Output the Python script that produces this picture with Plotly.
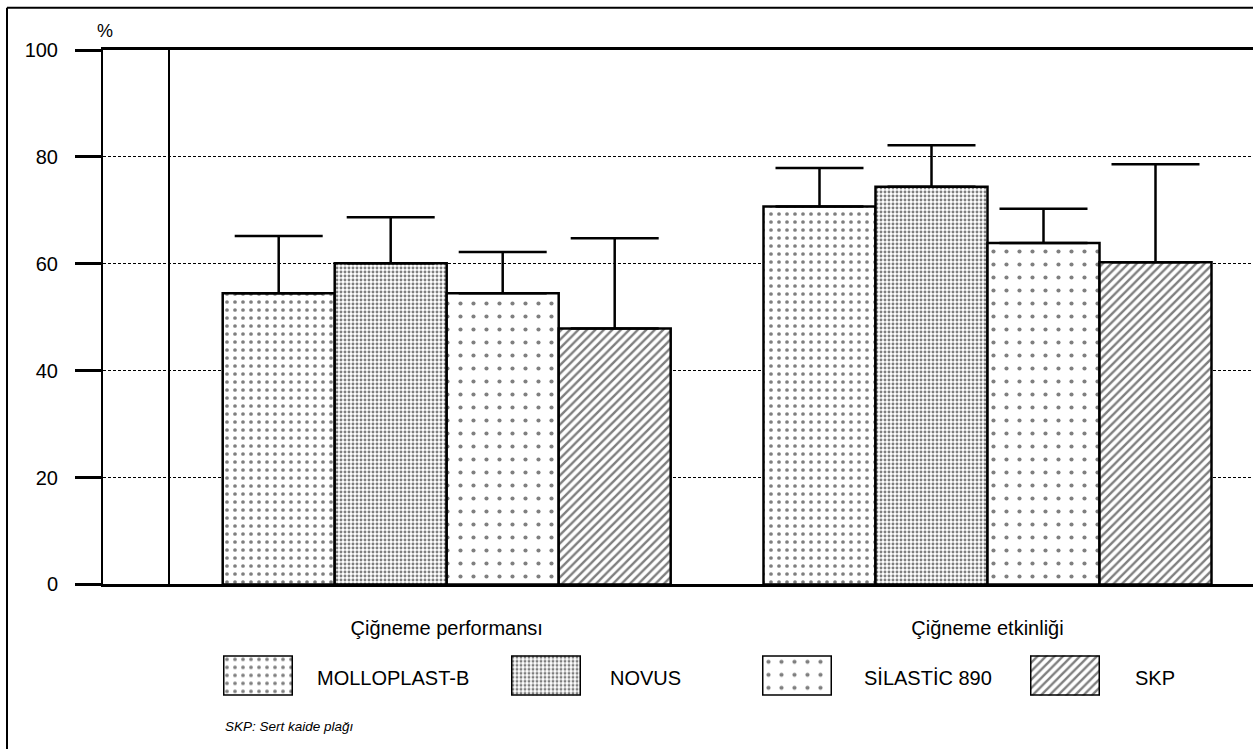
import plotly.graph_objects as go

# ---- data ----
groups = ["Çiğneme performansı", "Çiğneme etkinliği"]
series = ["MOLLOPLAST-B", "NOVUS", "SİLASTİC 890", "SKP"]
molloplast = [54.5, 70.7]
molloplast_sd = [10.7, 7.2]
novus = [60.1, 74.4]
novus_sd = [8.6, 7.8]
silastic = [54.5, 63.9]
silastic_sd = [7.7, 6.4]
skp = [47.9, 60.3]
skp_sd = [16.9, 18.3]
y_ticks = [0, 20, 40, 60, 80, 100]
y_unit = "%"
note = "SKP: Sert kaide plağı"

values = [molloplast, novus, silastic, skp]
sds = [molloplast_sd, novus_sd, silastic_sd, skp_sd]

# ---- styles ----
FONT = "Liberation Sans, Arial, Helvetica, sans-serif"
patterns = [
    dict(shape=".", size=8, solidity=0.17, fgcolor="black", bgcolor="white"),
    dict(shape=".", size=4, solidity=0.42, fgcolor="black", bgcolor="white"),
    dict(shape=".", size=13, solidity=0.08, fgcolor="black", bgcolor="white"),
    dict(shape="/", size=6, solidity=0.4, fgcolor="black", bgcolor="white"),
]

W, H = 1253, 749
L, T = 103, 50
plot_w = W - L
plot_h = H - T
axis_bottom_px = 593

def py(px):  # figure pixel y -> paper y
    return (H - px) / plot_h

def pxx(px):  # figure pixel x -> paper x
    return (px - L) / plot_w

fig = go.Figure()

for name, vals, sd, pat in zip(series, values, sds, patterns):
    fig.add_trace(go.Bar(
        x=groups, y=vals, name=name,
        marker=dict(color="white", line=dict(color="black", width=2.5), pattern=pat),
        error_y=dict(type="data", symmetric=False, array=sd,
                     arrayminus=[0] * len(sd), color="black", thickness=2.5, width=44),
        showlegend=False,
    ))

# legend swatches, each on its own small hidden axis pair
legend_boxes = [(223, 293), (511, 581), (762, 832), (1030, 1100)]
legend_text_x = [315, 608, 862, 1133]
box_top, box_bot = 665, 706
for i, (name, pat, (bx0, bx1)) in enumerate(zip(series, patterns, legend_boxes)):
    k = i + 2
    fig.add_trace(go.Bar(
        x=[name], y=[1], width=1, xaxis=f"x{k}", yaxis=f"y{k}",
        marker=dict(color="white", line=dict(color="black", width=3), pattern=pat),
        showlegend=False, cliponaxis=False, hoverinfo="skip",
    ))
    fig.layout[f"xaxis{k}"] = dict(domain=[pxx(bx0), pxx(bx1)], range=[-0.5, 0.5],
                                   visible=False, anchor=f"y{k}", fixedrange=True)
    fig.layout[f"yaxis{k}"] = dict(domain=[py(box_bot), py(box_top)], range=[0, 1],
                                   visible=False, anchor=f"x{k}", fixedrange=True)
    fig.add_annotation(text=name, xref="paper", yref="paper",
                       x=pxx(legend_text_x[i]), y=py(688), xanchor="left", yanchor="middle",
                       showarrow=False, font=dict(family=FONT, size=20, color="black"))

unit = 540.8
c0 = 446.7
fig.update_layout(
    width=W, height=H,
    margin=dict(l=L, r=0, t=T, b=0, pad=0),
    paper_bgcolor="white", plot_bgcolor="white",
    barmode="group", bargap=0.1716, bargroupgap=0,
    font=dict(family=FONT, size=20, color="black"),
    xaxis=dict(
        type="category", range=[(L - c0) / unit, (W - c0) / unit],
        showline=True, linecolor="black", linewidth=2.5, mirror=True,
        ticks="", showgrid=False, ticklabelstandoff=24,
        tickfont=dict(family=FONT, size=20, color="black"),
        domain=[0, 1], anchor="y", fixedrange=True,
    ),
    yaxis=dict(
        range=[0, 100], tickvals=y_ticks, domain=[py(axis_bottom_px), 1],
        showline=True, linecolor="black", linewidth=2,
        ticks="outside", ticklen=26, tickwidth=2.5, tickcolor="black",
        ticklabelstandoff=13,
        showgrid=True, gridcolor="black", gridwidth=1, griddash="3px,2px",
        zeroline=False, tickfont=dict(family=FONT, size=20, color="black"),
        anchor="x", fixedrange=True,
    ),
)

# unit label
fig.add_annotation(text=y_unit, xref="paper", yref="paper", x=pxx(105), y=py(31),
                   xanchor="center", yanchor="middle", showarrow=False,
                   font=dict(family=FONT, size=18, color="black"))
# footnote
fig.add_annotation(text=f"<i>{note}</i>", xref="paper", yref="paper", x=pxx(223), y=py(737),
                   xanchor="left", yanchor="middle", showarrow=False,
                   font=dict(family=FONT, size=13.5, color="black"))

# vertical divider line inside the plot
fig.add_shape(type="line", xref="x domain", yref="y", x0=pxx(169), x1=pxx(169), y0=0, y1=100,
              line=dict(color="black", width=2))
# outer frame (left + top)
fig.add_shape(type="line", xref="paper", yref="paper", x0=pxx(7), x1=pxx(7), y0=-0.05, y1=py(7),
              line=dict(color="black", width=2))
fig.add_shape(type="line", xref="paper", yref="paper", x0=pxx(7), x1=1.05, y0=py(7), y1=py(7),
              line=dict(color="black", width=2))

fig.write_html("out.html", config={"displayModeBar": False},
               post_script="document.body.style.margin='0';document.body.style.overflow='hidden';")
